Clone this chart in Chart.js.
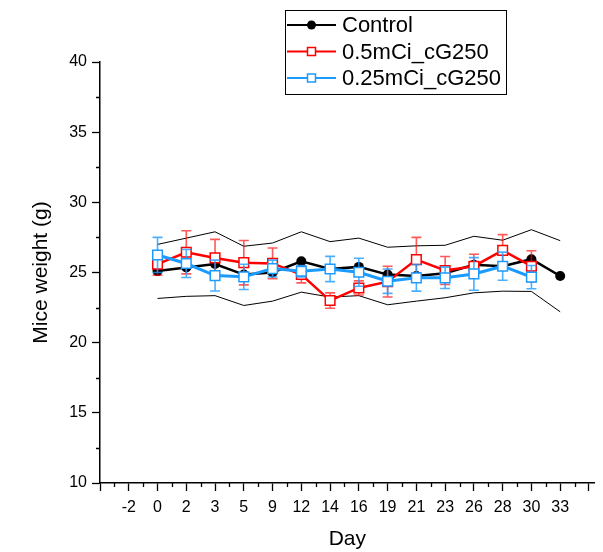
<!DOCTYPE html>
<html>
<head>
<meta charset="utf-8">
<script src="https://cdn.jsdelivr.net/npm/chart.js@4/dist/chart.umd.min.js"></script>
<style>
  html, body { margin: 0; padding: 0; background: #fff; }
  canvas { display: block; }
</style>
</head>
<body>
<canvas id="weights" width="603" height="552"></canvas>
<script>
// tick labels for the day axis (category positions 1..16)
const days = ['-2', '0', '2', '3', '5', '9', '12', '14', '16', '19', '21', '23', '26', '28', '30', '33'];

const control = [null, 25.1, 25.35, 25.6, 24.85, 25.0, 25.8, 25.25, 25.4, 24.85, 24.75, 24.95, 25.55, 25.45, 25.95, 24.75];
const controlUpper = [null, 27.0, 27.45, 27.9, 26.87, 27.1, 27.9, 27.2, 27.45, 26.8, 26.9, 26.94, 27.58, 27.3, 28.05, 27.27];
const controlLower = [null, 23.15, 23.3, 23.35, 22.65, 22.96, 23.6, 23.25, 23.35, 22.7, 22.96, 23.2, 23.55, 23.67, 23.65, 22.2];

const dose05 = [null, 25.6, 26.44, 26.04, 25.7, 25.65, 24.86, 23.0, 23.9, 24.35, 25.92, 25.14, 25.45, 26.58, 25.45, null];
const dose05Err = [null, 0.8, 1.54, 1.32, 1.58, 1.1, 0.6, 0.55, 0.5, 1.1, 1.58, 1.0, 0.85, 1.12, 1.1, null];

const dose025 = [null, 26.25, 25.64, 24.78, 24.69, 25.28, 25.09, 25.25, 25.02, 24.38, 24.62, 24.62, 24.9, 25.45, 24.67, null];
const dose025Err = [null, 1.25, 1.0, 1.1, 0.9, 0.6, 0.4, 0.9, 1.0, 0.87, 0.95, 0.76, 1.16, 1.0, 0.83, null];

const BLUE = '#1c9bff';
const RED = '#ff0000';

function toPoints(values) {
  return values.map((v, i) => ({ x: i + 1, y: v }));
}

// error bars drawn just under each dataset's own line and markers
const errorBars = {
  id: 'errorBars',
  beforeDatasetDraw(chart, args) {
    const ds = chart.data.datasets[args.index];
    if (!ds.errors) return;
    const ctx = chart.ctx;
    const xs = chart.scales.x;
    const ys = chart.scales.y;
    ctx.save();
    ctx.strokeStyle = ds.errorColor;
    ctx.lineWidth = 1.6;
    ds.data.forEach((p, i) => {
      const e = ds.errors[i];
      if (p.y == null || e == null) return;
      const x = xs.getPixelForValue(p.x);
      const top = ys.getPixelForValue(p.y + e);
      const bottom = ys.getPixelForValue(p.y - e);
      ctx.beginPath();
      ctx.moveTo(x, top); ctx.lineTo(x, bottom);
      ctx.moveTo(x - 5, top); ctx.lineTo(x + 5, top);
      ctx.moveTo(x - 5, bottom); ctx.lineTo(x + 5, bottom);
      ctx.stroke();
    });
    ctx.restore();
  }
};

// short minor ticks between the major ones
const minorTicks = {
  id: 'minorTicks',
  afterDraw(chart) {
    const ctx = chart.ctx;
    const xs = chart.scales.x;
    const ys = chart.scales.y;
    const area = chart.chartArea;
    ctx.save();
    ctx.strokeStyle = '#000';
    ctx.lineWidth = 1.3;
    ctx.beginPath();
    for (let v = 0.5; v < xs.max; v += 1) {
      const x = Math.round(xs.getPixelForValue(v)) + 0.5;
      ctx.moveTo(x, area.bottom); ctx.lineTo(x, area.bottom + 4);
    }
    for (let v = 12.5; v < ys.max; v += 5) {
      const y = Math.round(ys.getPixelForValue(v)) + 0.5;
      ctx.moveTo(area.left, y); ctx.lineTo(area.left - 4, y);
    }
    ctx.stroke();
    ctx.restore();
  }
};

// boxed legend with line + marker samples
const boxLegend = {
  id: 'boxLegend',
  afterDraw(chart) {
    const ctx = chart.ctx;
    const rows = [25, 51.5, 78];
    const items = chart.data.datasets
      .filter(d => d.legendLabel)
      .sort((a, b) => a.legendRank - b.legendRank);
    ctx.save();
    ctx.strokeStyle = '#000';
    ctx.lineWidth = 1;
    ctx.strokeRect(285.5, 10.5, 221, 84);
    items.forEach((d, i) => {
      const y = rows[i];
      ctx.strokeStyle = d.borderColor;
      ctx.lineWidth = 2;
      ctx.beginPath();
      ctx.moveTo(287, y); ctx.lineTo(336, y);
      ctx.stroke();
      if (d.pointStyle === 'circle') {
        ctx.fillStyle = d.pointBackgroundColor;
        ctx.beginPath();
        ctx.arc(311.5, y, 4.5, 0, Math.PI * 2);
        ctx.fill();
      } else {
        ctx.fillStyle = '#fff';
        ctx.lineWidth = 1.5;
        ctx.fillRect(307.5, y - 4, 8, 8);
        ctx.strokeRect(307.5, y - 4, 8, 8);
      }
      ctx.fillStyle = '#000';
      ctx.font = '22px "Liberation Sans", Arial, sans-serif';
      ctx.textBaseline = 'middle';
      ctx.fillText(d.legendLabel, 342, y + 1);
    });
    ctx.restore();
  }
};

const tickFont = { family: '"Liberation Sans", Arial, sans-serif', size: 16 };
const titleFont = { family: '"Liberation Sans", Arial, sans-serif', size: 21 };

new Chart(document.getElementById('weights'), {
  type: 'line',
  data: {
    datasets: [
      {
        legendLabel: '0.25mCi_cG250',
        legendRank: 3,
        data: toPoints(dose025),
        errors: dose025Err,
        errorColor: 'rgba(30, 155, 255, 0.8)',
        borderColor: BLUE,
        borderWidth: 3,
        pointStyle: 'rect',
        pointRadius: 6.8,
        pointBorderWidth: 1.5,
        pointBorderColor: BLUE,
        pointBackgroundColor: '#fff',
        tension: 0,
        order: 1,
      },
      {
        legendLabel: '0.5mCi_cG250',
        legendRank: 2,
        data: toPoints(dose05),
        errors: dose05Err,
        errorColor: 'rgba(255, 0, 0, 0.65)',
        borderColor: RED,
        borderWidth: 2.5,
        pointStyle: 'rect',
        pointRadius: 6.8,
        pointBorderWidth: 1.5,
        pointBorderColor: RED,
        pointBackgroundColor: '#fff',
        tension: 0,
        order: 2,
      },
      {
        legendLabel: 'Control',
        legendRank: 1,
        data: toPoints(control),
        borderColor: '#000',
        borderWidth: 2.5,
        pointStyle: 'circle',
        pointRadius: 5,
        pointBorderWidth: 0,
        pointBackgroundColor: '#000',
        tension: 0,
        order: 3,
      },
      {
        data: toPoints(controlUpper),
        borderColor: '#000',
        borderWidth: 1,
        pointRadius: 0,
        tension: 0,
        order: 4,
      },
      {
        data: toPoints(controlLower),
        borderColor: '#000',
        borderWidth: 1,
        pointRadius: 0,
        tension: 0,
        order: 4,
      },
    ],
  },
  options: {
    responsive: false,
    animation: false,
    devicePixelRatio: 1,
    layout: { padding: { top: 62, right: 5, bottom: 0, left: 0 } },
    plugins: {
      legend: { display: false },
      tooltip: { enabled: false },
    },
    scales: {
      x: {
        type: 'linear',
        min: 0,
        max: 17.2,
        afterFit: (scale) => { scale.height = 69; },
        border: { display: true, color: '#000', width: 1.5 },
        grid: { drawOnChartArea: false, drawTicks: true, tickLength: 8, color: '#000', tickWidth: 1.3 },
        ticks: {
          stepSize: 1,
          includeBounds: false,
          autoSkip: false,
          maxRotation: 0,
          padding: 7,
          color: '#000',
          font: tickFont,
          callback: (v) => days[v - 1] ?? '',
        },
        title: { display: true, text: 'Day', color: '#000', font: titleFont, padding: { top: 0, bottom: 0 } },
      },
      y: {
        min: 10,
        max: 40,
        afterFit: (scale) => { scale.width = 100; },
        border: { display: true, color: '#000', width: 1.5 },
        grid: { drawOnChartArea: false, drawTicks: true, tickLength: 8, color: '#000', tickWidth: 1.3 },
        ticks: { stepSize: 5, padding: 5, color: '#000', font: tickFont },
        title: { display: true, text: 'Mice weight (g)', color: '#000', font: titleFont, padding: { top: 29, bottom: 0 } },
      },
    },
  },
  plugins: [errorBars, minorTicks, boxLegend],
});
</script>
</body>
</html>
